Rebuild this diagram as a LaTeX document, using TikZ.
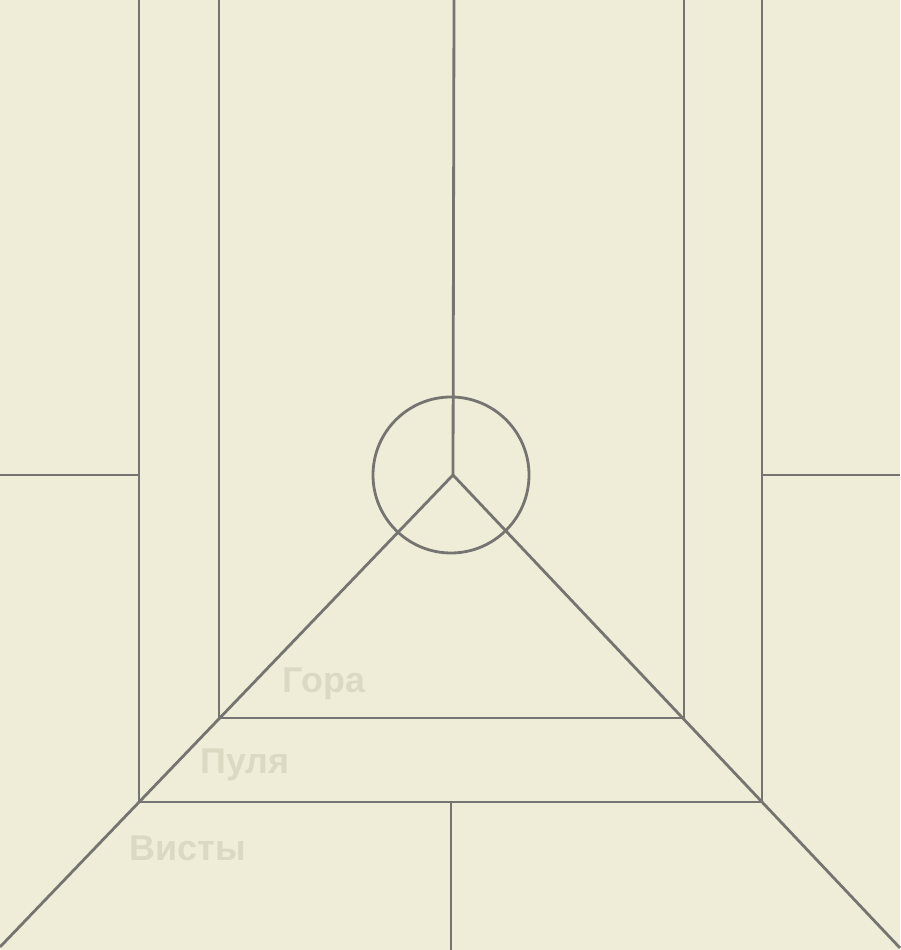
\documentclass[tikz,border=0pt]{standalone}
\usepackage{fontspec}
\setmainfont{Liberation Sans}
\usepackage{tikz}
\usetikzlibrary{calc}
\definecolor{fondo}{HTML}{EFEDD8}
\definecolor{linea}{HTML}{767470}
\definecolor{rotulo}{HTML}{DCD9C3}
\tikzset{
  trazo/.style={draw=linea,line width=0.8pt},
  rotulo/.style={text=rotulo,font=\fontsize{10.2}{12}\selectfont\bfseries,inner sep=0pt}
}

\begin{document}
\begin{tikzpicture}[x=1cm,y=1cm]
\fill[fondo] (0,0) rectangle (9,9.5);
\useasboundingbox (0,0) rectangle (9,9.5);
% centro
\coordinate (c) at (4.53,4.75);
% columnas
\draw[trazo] (1.39,9.5)--(1.39,1.48)--(7.62,1.48)--(7.62,9.5);
\draw[trazo] (2.19,9.5)--(2.19,2.32)--(6.84,2.32)--(6.84,9.5);
\draw[trazo] (c)--(4.54,9.5);
\draw[trazo] (0,4.75)--(1.39,4.75);
\draw[trazo] (7.62,4.75)--(9,4.75);
\draw[trazo] (4.51,1.48)--(4.51,0);
% diagonales
\draw[trazo] (c)--(0,0.03);
\draw[trazo] (c)--(9,0.02);
\draw[trazo] (4.51,4.75) circle (0.78);
% rotulos
\node[rotulo] (gora) at (3.24,2.66) {Гора};
\node[rotulo] (pulya) at (2.45,1.85) {Пуля};
\node[rotulo] (visty) at (1.88,1.02) {Висты};
\end{tikzpicture}
\end{document}
